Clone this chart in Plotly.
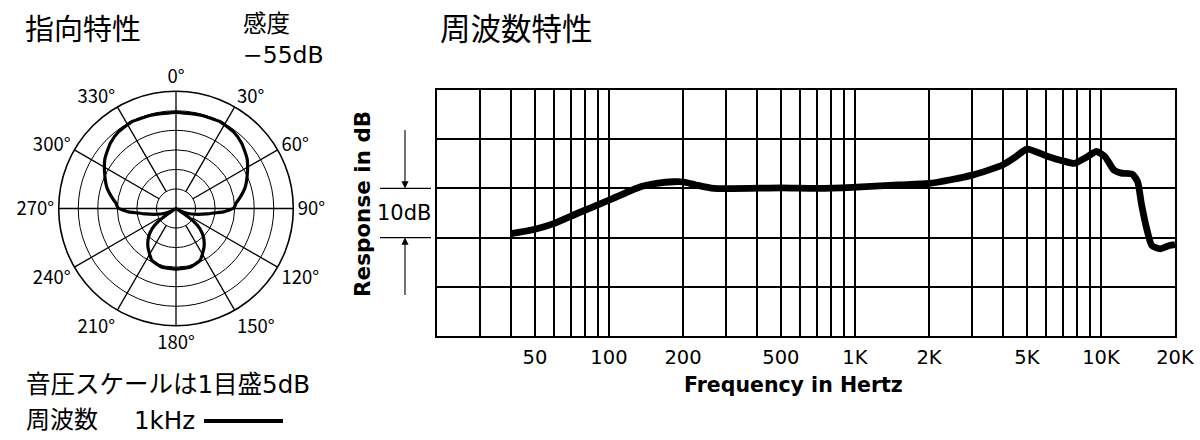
import plotly.graph_objects as go

W, H = 1200, 440
FONT = "Noto Sans CJK JP"
FONT_W = "DejaVu Sans, Noto Sans CJK JP"


def px(x):
    return x / W


def py(y):
    return 1 - y / H


# ---------------- data ----------------
# Frequency response (Hz, dB relative)
freq_hz = [40, 50, 60, 75, 100, 132, 156, 184, 201, 226, 267, 500, 700, 975,
           1500, 2000, 3000, 4000, 4500, 5000, 6000, 7000, 7800, 8700, 9600,
           10400, 11300, 12100, 13400, 14100, 14600, 15400, 16100, 17400,
           19000, 20000]
response_db = [-9.2, -8.3, -7.1, -5.0, -2.4, 0.2, 1.0, 1.35, 1.3, 0.7, 0.0,
               0.1, 0.0, 0.2, 0.7, 1.0, 2.7, 4.8, 6.4, 8.0, 6.6, 5.6, 5.1,
               6.3, 7.5, 6.4, 3.7, 3.1, 2.9, 1.35, -3.1, -8.5, -11.6, -12.3,
               -11.6, -11.4]

freq_tickvals = [50, 100, 200, 500, 1000, 2000, 5000, 10000, 20000]
freq_ticktext = ["50", "100", "200", "500", "1K", "2K", "5K", "10K", "20K"]
freq_minor_grid = [20, 30, 40, 60, 70, 80, 90, 300, 400, 600, 700, 800, 900,
                   3000, 4000, 6000, 7000, 8000, 9000]

# Polar pattern at 1 kHz (degrees clockwise from front, dB)
polar_deg = [0, 15, 27, 37, 45, 55, 64, 73, 80, 85, 89, 92, 94, 96.4, 100,
             106.5, 112, 119, 122, 124, 126, 130, 136, 144, 155, 166, 180,
             194, 205, 216, 224, 230, 234, 236, 238, 241, 248, 253.5, 260,
             263.6, 266, 268, 271, 275, 280, 287, 296, 305, 315, 323, 333,
             345, 360]
polar_db = [-5.4, -5.3, -5.1, -5.5, -6.3, -7.8, -9.7, -11.5, -13.3, -14.6,
            -15.1, -16.5, -17.8, -19.9, -22.0, -24.8, -26.6, -28.7, -30.0,
            -27.7, -24.6, -22.1, -19.9, -17.8, -15.4, -14.6, -14.5,
            -14.6, -15.4, -17.8, -19.9, -22.1, -24.6, -27.7, -30.0, -28.7,
            -26.6, -24.8, -22.0, -19.9, -17.8, -16.5, -15.1, -14.6, -13.3,
            -11.5, -9.7, -7.8, -6.3, -5.5, -5.1, -5.3, -5.4]

polar_ticks = [0, 30, 60, 90, 120, 150, 180, 210, 240, 270, 300, 330]
polar_rings = [-25, -20, -15, -10, -5]
r_min, r_max = -30, 0

fig = go.Figure()

# ---------------- polar chart ----------------
spoke_r, spoke_t = [], []
for a in polar_ticks:
    start = r_min if a % 90 == 0 else polar_rings[0]
    spoke_r += [start, r_max, None]
    spoke_t += [a, a, None]
fig.add_trace(go.Scatterpolar(r=spoke_r, theta=spoke_t, mode="lines",
                              line=dict(color="black", width=1.3),
                              hoverinfo="skip", showlegend=False))
fig.add_trace(go.Scatterpolar(r=polar_db, theta=polar_deg, mode="lines",
                              line=dict(color="black", width=3.2,
                                        shape="spline", smoothing=0.5),
                              showlegend=False, name="1kHz"))

# ---------------- frequency response ----------------
fig.add_trace(go.Scatter(x=freq_hz, y=response_db, mode="lines",
                         line=dict(color="black", width=6.8, shape="spline",
                                   smoothing=0.6),
                         showlegend=False, xaxis="x", yaxis="y"))

cx, cy, R = 176, 208.5, 117.3
fig.update_layout(
    width=W, height=H,
    margin=dict(l=0, r=0, t=0, b=0, autoexpand=False),
    paper_bgcolor="white",
    plot_bgcolor="white",
    font=dict(family=FONT, color="black"),
    polar=dict(
        domain=dict(x=[px(cx - R), px(cx + R)], y=[py(cy + R), py(cy - R)]),
        bgcolor="white",
        angularaxis=dict(rotation=90, direction="clockwise",
                         tickmode="array", tickvals=polar_ticks,
                         ticktext=[f"{a}°" for a in polar_ticks],
                         showgrid=False, showline=True, linecolor="black",
                         linewidth=1.6, ticks="",
                         tickfont=dict(family=FONT, size=18.5, color="black")),
        radialaxis=dict(range=[r_min, r_max], tickmode="array",
                        tickvals=polar_rings, showticklabels=False,
                        showgrid=True, gridcolor="black", gridwidth=1.3,
                        showline=False, ticks=""),
    ),
    xaxis=dict(type="log", domain=[px(437), px(1175)], automargin=False,
               range=[1.30103, 4.30103], tickmode="array",
               tickvals=freq_tickvals, ticktext=freq_ticktext,
               showgrid=True, gridcolor="black", gridwidth=1.6,
               minor=dict(tickmode="array", tickvals=freq_minor_grid,
                          showgrid=True, gridcolor="black", gridwidth=1.6,
                          ticks=""),
               showline=True, linecolor="black", linewidth=1.7, mirror=True,
               ticks="", ticklabelstandoff=3, zeroline=False,
               ticklabeloverflow="allow",
               tickfont=dict(family=FONT_W, size=19.5, color="black")),
    yaxis=dict(domain=[py(336), py(90)], range=[-30, 20], dtick=10,
               automargin=False,
               tick0=0, showgrid=True, gridcolor="black", gridwidth=1.6,
               showline=True, linecolor="black", linewidth=1.7, mirror=True,
               showticklabels=False, ticks="", zeroline=False),
)

ann = []


def text(x, y, s, size, xanchor="left", bold=False, angle=0, family=FONT_W):
    ann.append(dict(x=px(x), y=py(y), xref="paper", yref="paper",
                    text=f"<b>{s}</b>" if bold else s, showarrow=False,
                    xanchor=xanchor, yanchor="middle", textangle=angle,
                    align="left",
                    font=dict(family=family, size=size, color="black")))


text(23, 27, "指向特性", 29, family=FONT)
text(241, 24, "感度", 23.5)
text(241, 55, "−55dB", 23.5)
text(438, 27, "周波数特性", 30.5, family=FONT)
text(24, 384, "音圧スケールは1目盛5dB", 24.5)
text(24, 420, "周波数", 24)
text(132, 420, "1kHz", 24.5)
text(362, 204, "Response in dB", 21.5, xanchor="center", bold=True, angle=-90)
text(404, 213, "10dB", 21, xanchor="center")
text(793, 385, "Frequency in Hertz", 20.5, xanchor="center", bold=True)

# dimension arrows for 10 dB
ann.append(dict(x=px(405), y=0, xref="paper", yref="y", ax=0, ay=-60,
                text="", showarrow=True, arrowhead=2, arrowsize=1.3,
                arrowwidth=1.1, arrowcolor="black"))
ann.append(dict(x=px(405), y=-10, xref="paper", yref="y", ax=0, ay=59,
                text="", showarrow=True, arrowhead=2, arrowsize=1.3,
                arrowwidth=1.1, arrowcolor="black"))
fig.update_layout(annotations=ann)

shapes = []
for yv in (0, -10):
    shapes.append(dict(type="line", xref="paper", yref="y", x0=px(380),
                       x1=px(431), y0=yv, y1=yv,
                       line=dict(color="black", width=1.2)))
# legend sample line
shapes.append(dict(type="line", xref="paper", yref="paper", x0=px(204),
                   x1=px(283), y0=py(421), y1=py(421),
                   line=dict(color="black", width=4)))
fig.update_layout(shapes=shapes)

fig.write_html("out.html")
